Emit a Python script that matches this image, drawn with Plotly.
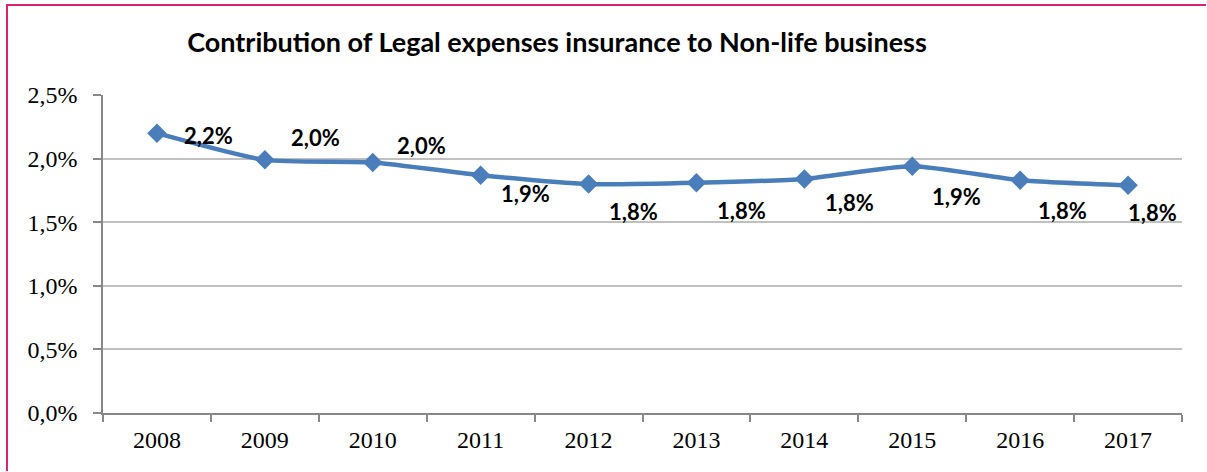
import plotly.graph_objects as go

years = ["2008", "2009", "2010", "2011", "2012", "2013", "2014", "2015", "2016", "2017"]
share = [0.0220, 0.0199, 0.0197, 0.0187, 0.0180, 0.0181, 0.0184, 0.0194, 0.0183, 0.0179]
label_dx = [52, 51, 49, 45, 45, 45, 45, 44, 42, 24]
label_dy = [-2, 22, 17, -18, -27, -28, -24, -30, -30, -27]
y_ticks = [0, 0.005, 0.01, 0.015, 0.02, 0.025]

BLUE = "#4A7EBB"
BORDER = "#D8246E"

fig = go.Figure()
fig.add_trace(go.Scatter(
    x=years, y=share, mode="lines+markers",
    line=dict(color=BLUE, width=4.5, shape="spline", smoothing=0.6),
    marker=dict(symbol="diamond", size=15, color=BLUE),
    hoverinfo="skip", showlegend=False,
))

for i, (v, dx, dy) in enumerate(zip(share, label_dx, label_dy)):
    fig.add_annotation(
        x=i, y=v, xref="x", yref="y",
        text="<b>" + ("%.1f%%" % (v * 100)).replace(".", ",") + "</b>",
        showarrow=False, xshift=dx, yshift=dy,
        font=dict(family="Lato", size=22, color="black"),
    )

# outer frame (left and top edges visible in the crop)
fx0 = (7 - 103) / 1079
fx1 = (1206 - 103) / 1079
fy0 = (413 - 471) / 318
fy1 = (413 - 5) / 318
fig.add_shape(type="path", xref="paper", yref="paper",
              path=f"M {fx0} {fy0} L {fx0} {fy1} L {fx1} {fy1}",
              line=dict(color=BORDER, width=2), fillcolor="rgba(0,0,0,0)",
              layer="above")

fig.update_layout(
    width=1207, height=472,
    margin=dict(l=103, r=25, t=95, b=59),
    paper_bgcolor="white", plot_bgcolor="white",
    separators=",.",
    title=dict(
        text="<b>Contribution of Legal expenses insurance to Non-life business</b>",
        x=(557 - 103) / 1079, xref="paper", xanchor="center",
        y=1 - 43 / 472, yref="container", yanchor="middle",
        font=dict(family="Lato", size=27, color="black"),
    ),
    xaxis=dict(
        type="category", range=[-0.5, 9.5],
        showgrid=False, showline=True, linecolor="#888888", linewidth=1.5,
        ticks="outside", tickson="boundaries", ticklen=7, tickcolor="#888888", tickwidth=1.5,
        tickfont=dict(family="Liberation Serif", size=24, color="black"),
        ticklabelstandoff=4,
    ),
    yaxis=dict(
        range=[0, 0.025], tickvals=y_ticks, tickformat=".1%",
        showgrid=True, gridcolor="#C0C0C0", gridwidth=1.5,
        showline=True, linecolor="#888888", linewidth=1.5,
        ticks="outside", ticklen=8, tickcolor="#888888", tickwidth=1.5,
        tickfont=dict(family="Liberation Serif", size=24, color="black"),
        ticklabelstandoff=11, zeroline=False,
    ),
)

fig.write_html("out.html", post_script="document.body.style.margin='0';",
               config={"displayModeBar": False})
